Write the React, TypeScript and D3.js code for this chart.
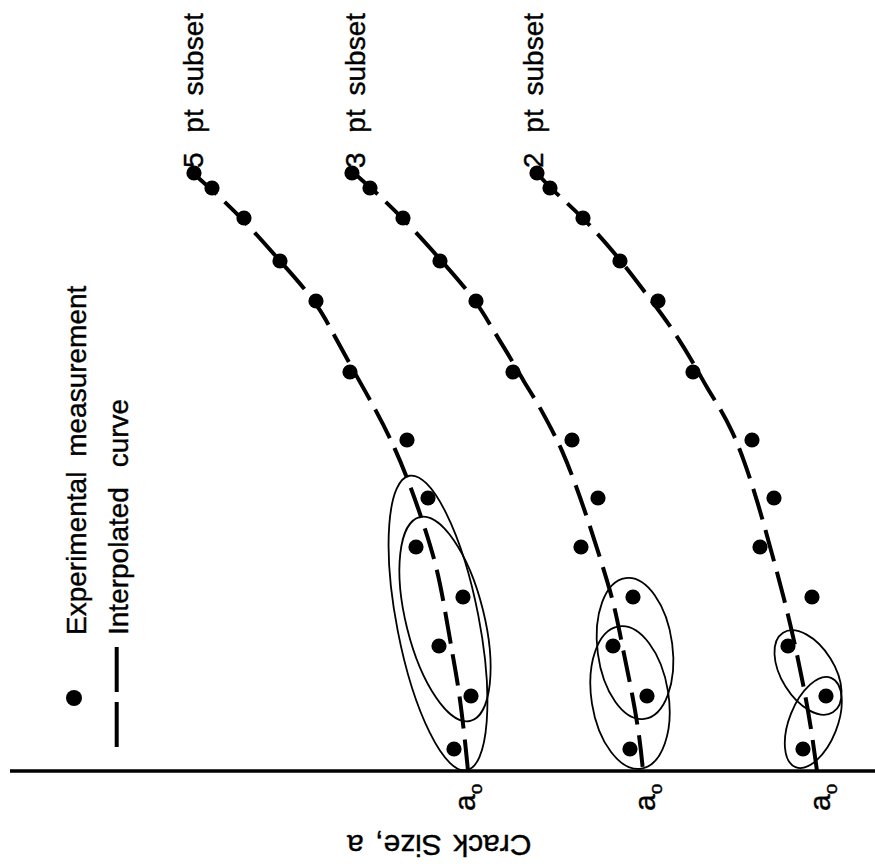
import React from 'react';
import * as d3 from 'd3';

const W = 875;
const H = 868;

// Load cycles N of the experimental measurements (same for all three subsets)
const measN = [59.8, 58.3, 55.3, 51.0, 47.0, 39.9, 33.1, 27.3, 22.4, 17.4, 12.5, 7.5, 2.2];
// Crack size a of the measurements, one list per subset panel
const measA5 = [68.6, 66.8, 63.6, 60.0, 56.4, 53.0, 47.3, 45.2, 46.4, 41.7, 44.1, 40.9, 42.6];
const measA3 = [52.8, 51.0, 47.7, 44.0, 40.4, 36.7, 30.8, 28.2, 29.9, 24.7, 26.7, 23.3, 25.0];
const measA2 = [34.3, 33.0, 29.7, 26.0, 22.2, 18.7, 12.8, 10.6, 12.0, 6.8, 9.2, 5.4, 7.7];

// Interpolated curves (N, a)
const curveN5 = [59.8, 58.2, 55.2, 51.0, 47.0, 43.6, 40.3, 35.9, 32.3, 28.6, 24.9, 20.4, 16.1, 11.4, 8.1, 3.1, 0];
const curveA5 = [68.7, 66.9, 63.7, 60.0, 56.4, 54.6, 52.8, 50.3, 48.5, 47.0, 45.7, 44.3, 43.5, 42.7, 42.1, 41.5, 41.2];
const curveN3 = [59.8, 58.4, 55.3, 51.2, 47.1, 44.1, 41.4, 38.9, 36.9, 34.1, 32.1, 29.1, 25.1, 20.4, 16.4, 12.1, 7.4, 3.1, 0];
const curveA3 = [52.6, 51.0, 47.7, 44.0, 40.4, 38.7, 37.0, 35.6, 34.3, 32.8, 31.8, 30.6, 29.2, 27.7, 26.5, 25.7, 24.7, 24.0, 23.7];
const curveN2 = [59.8, 58.3, 55.4, 51.2, 47.6, 44.6, 40.9, 38.3, 36.6, 34.1, 31.1, 26.8, 22.1, 17.3, 13.1, 8.8, 4.4, 0];
const curveA2 = [34.3, 33.0, 29.7, 26.0, 23.3, 21.0, 18.7, 17.3, 16.2, 14.8, 13.6, 12.2, 10.9, 9.6, 8.6, 7.7, 6.9, 6.3];

// Subset ellipses: centre (N, a), semi-axes in data units, tilt in degrees
const ellipses5 = [
  { n: 14.8, a: 44.2, major: 15.0, minor: 4.1, tilt: -11 },
  { n: 15.2, a: 43.5, major: 10.5, minor: 3.9, tilt: -14 },
];
const ellipses3 = [
  { n: 12.25, a: 24.5, major: 7.1, minor: 3.75, tilt: -7.5 },
  { n: 7.35, a: 25.0, major: 7.2, minor: 3.85, tilt: -9 },
];
const ellipses2 = [
  { n: 9.85, a: 7.2, major: 4.7, minor: 2.65, tilt: -32 },
  { n: 4.85, a: 6.67, major: 4.8, minor: 2.4, tilt: 21.7 },
];

const subsetLabels = ['5 pt subset', '3 pt subset', '2 pt subset'];
const subsetLabelA = [67.7, 51.5, 33.7];
const a0Ticks = [41.2, 23.2, 5.7];
const legendLabels = ['Experimental measurement', 'Interpolated curve'];
const axisTitle = 'Crack Size, a';

const FONT = "'Liberation Sans', Arial, Helvetica, sans-serif";

export default function App() {
  const xA = d3.scaleLinear().domain([0, 80]).range([880, 80]);
  const yN = d3.scaleLinear().domain([0, 60]).range([771, 171]);
  const ux = Math.abs(xA(1) - xA(0));
  const uy = Math.abs(yN(1) - yN(0));
  const line = d3
    .line<[number, number]>()
    .x((d) => xA(d[1]))
    .y((d) => yN(d[0]))
    .curve(d3.curveBasis);

  const panels = [
    { label: subsetLabels[0], la: subsetLabelA[0], meas: measA5, cN: curveN5, cA: curveA5, ell: ellipses5, a0: a0Ticks[0] },
    { label: subsetLabels[1], la: subsetLabelA[1], meas: measA3, cN: curveN3, cA: curveA3, ell: ellipses3, a0: a0Ticks[1] },
    { label: subsetLabels[2], la: subsetLabelA[2], meas: measA2, cN: curveN2, cA: curveA2, ell: ellipses2, a0: a0Ticks[2] },
  ];

  const textStroke = { stroke: '#000', strokeWidth: 0.4 };

  return (
    <svg
      width={W}
      height={H}
      style={{ position: 'absolute', left: 0, top: 0, background: '#fff' }}
      fontFamily={FONT}
    >
      <rect x={0} y={0} width={W} height={H} fill="#fff" />
      {/* axis (crack size) */}
      <line x1={10} x2={W} y1={yN(0)} y2={yN(0)} stroke="#000" strokeWidth={3.5} />

      {panels.map((p, i) => {
        const pts = p.cN.map((n, j) => [n, p.cA[j]] as [number, number]);
        const words = p.label.split(' ');
        return (
          <g key={i}>
            <path
              d={line(pts) || ''}
              fill="none"
              stroke="#000"
              strokeWidth={4}
              strokeDasharray="32 11"
            />
            {p.ell.map((e, k) => {
              const cx = xA(e.a);
              const cy = yN(e.n);
              return (
                <ellipse
                  key={k}
                  cx={cx}
                  cy={cy}
                  rx={e.minor * ux}
                  ry={e.major * uy}
                  transform={`rotate(${e.tilt},${cx},${cy})`}
                  fill="none"
                  stroke="#000"
                  strokeWidth={1.8}
                />
              );
            })}
            {measN.map((n, j) => (
              <circle key={j} cx={xA(p.meas[j])} cy={yN(n)} r={7.6} fill="#000" />
            ))}
            <text
              transform={`translate(${xA(p.la)},168) rotate(-90)`}
              fontSize={28}
              fill="#000"
              {...textStroke}
            >
              <tspan>{words[0]}</tspan>
              <tspan dx={12}>{' ' + words[1]}</tspan>
              <tspan dx={6}>{' ' + words[2]}</tspan>
            </text>
            <text
              transform={`translate(${xA(p.a0) + 6.7},811) rotate(-90)`}
              fontSize={30}
              fill="#000"
              {...textStroke}
            >
              a
              <tspan fontSize={19} dy={7}>o</tspan>
            </text>
          </g>
        );
      })}

      {/* legend */}
      <circle cx={74} cy={698} r={8} fill="#000" />
      <line x1={116.7} x2={116.7} y1={747} y2={647} stroke="#000" strokeWidth={4} strokeDasharray="45 10" />
      <text transform="translate(86,635) rotate(-90)" fontSize={28} fill="#000" {...textStroke} style={{ wordSpacing: '7px' }}>
        {legendLabels[0]}
      </text>
      <text transform="translate(128,635) rotate(-90)" fontSize={28} fill="#000" {...textStroke} style={{ wordSpacing: '12px' }}>
        {legendLabels[1]}
      </text>

      {/* axis title, upside down */}
      <text transform="translate(531.5,835) rotate(180)" fontSize={30} fill="#000" {...textStroke} style={{ wordSpacing: '3px' }}>
        {axisTitle}
      </text>
    </svg>
  );
}
